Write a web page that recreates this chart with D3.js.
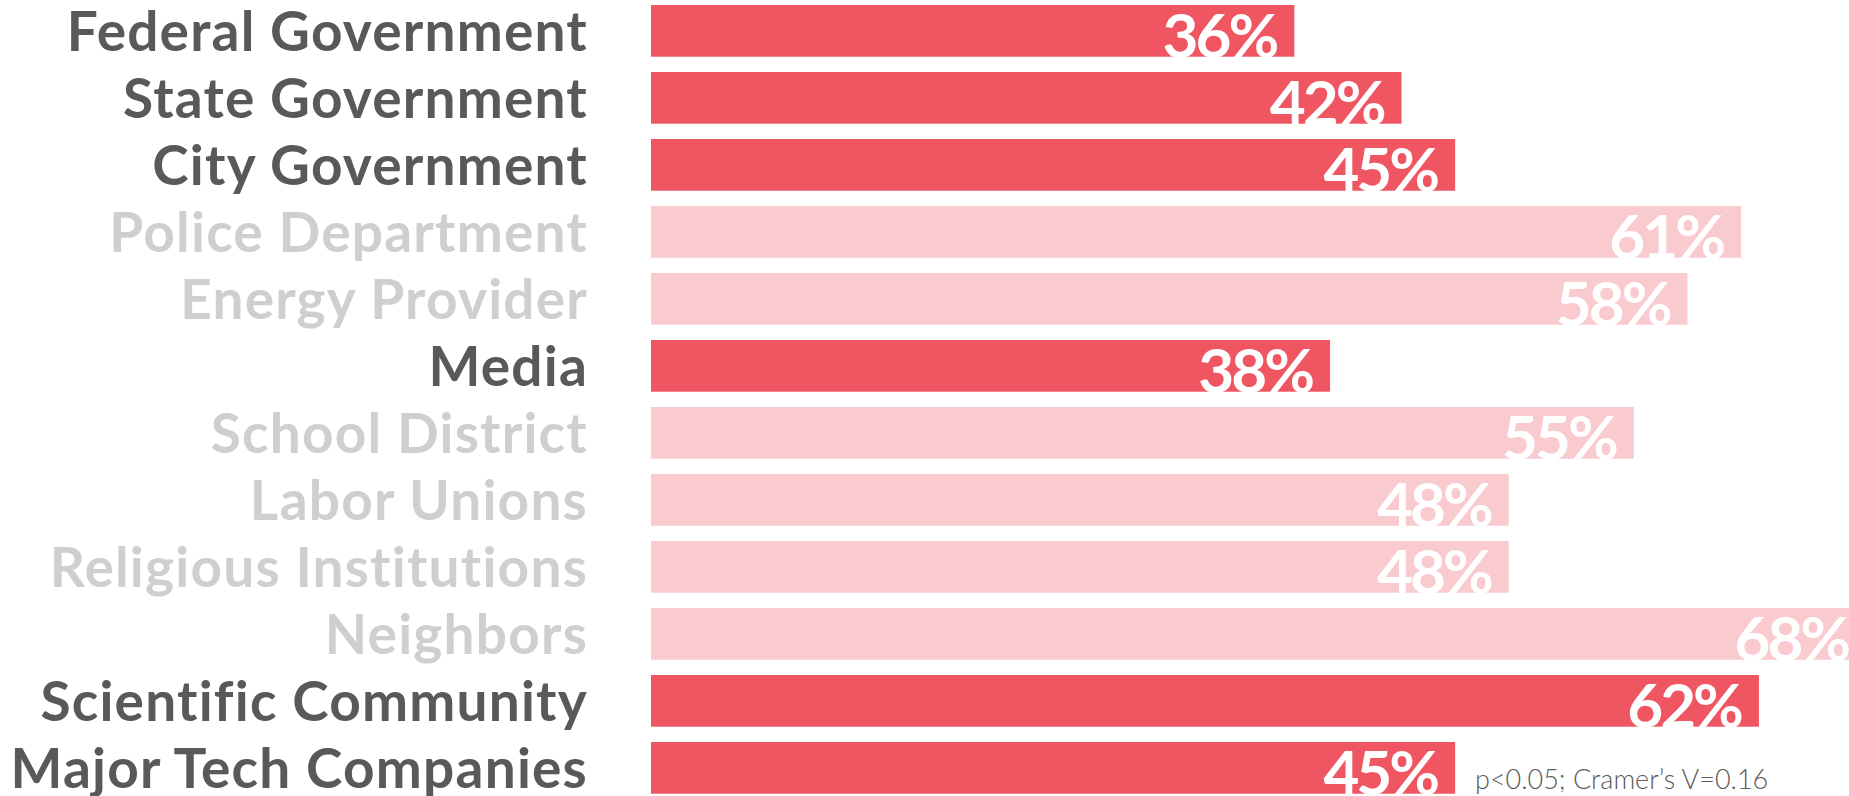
<!DOCTYPE html>
<html>
<head>
<meta charset="utf-8">
<script src="https://cdn.jsdelivr.net/npm/d3@7"></script>
<style>
  html, body { margin: 0; padding: 0; background: #ffffff; overflow: hidden; }
  svg { display: block; }
</style>
</head>
<body>
<svg id="chart" width="1849" height="796"></svg>
<script>
// Share of respondents by institution
const categories = [
  "Federal Government", "State Government", "City Government",
  "Police Department", "Energy Provider", "Media", "School District",
  "Labor Unions", "Religious Institutions", "Neighbors",
  "Scientific Community", "Major Tech Companies"
];
const values = [36, 42, 45, 61, 58, 38, 55, 48, 48, 68, 62, 45];
// whether the difference for the institution is significant (highlighted)
const highlighted = [true, true, true, false, false, true, false, false, false, false, true, true];
const note = "p<0.05; Cramer\u2019s V=0.16";

const svg = d3.select("#chart");

const barLeft = 651;
const x = d3.scaleLinear().domain([0, 100]).range([barLeft, barLeft + 1787]);

const step = 67;
const y = d3.scaleBand()
  .domain(categories)
  .range([5 - step * 0.114, 5 - step * 0.114 + step * categories.length])
  .paddingInner(0.228)
  .paddingOuter(0.114);

const strong = "#f05662", soft = "#f9cbcf";
const darkText = "#595959", lightText = "#cfcfcf";

const rows = categories.map((c, i) => ({ cat: c, val: values[i], hi: highlighted[i] }));

// bars
svg.append("g").selectAll("rect")
  .data(rows).join("rect")
  .attr("x", x(0))
  .attr("y", d => y(d.cat))
  .attr("width", d => x(d.val) - x(0))
  .attr("height", y.bandwidth())
  .attr("fill", d => d.hi ? strong : soft);

// value labels inside bar ends
const vfs = 62;
svg.append("g").selectAll("text")
  .data(rows).join("text")
  .attr("x", d => x(d.val) - 18)
  .attr("y", d => y(d.cat) + 8 + 0.72 * vfs)
  .attr("text-anchor", "end")
  .attr("font-family", "Lato, sans-serif")
  .attr("font-weight", 700)
  .attr("font-size", vfs)
  .attr("letter-spacing", -3)
  .attr("fill", "#ffffff")
  .text(d => d.val + "%");

// category labels
const lfs = 55;
svg.append("g").selectAll("text")
  .data(rows).join("text")
  .attr("x", 588)
  .attr("y", d => y(d.cat) + y.bandwidth() / 2 + 0.36 * lfs)
  .attr("text-anchor", "end")
  .attr("font-family", "Lato, sans-serif")
  .attr("font-weight", 700)
  .attr("font-size", lfs)
  .attr("letter-spacing", 1.2)
  .attr("fill", d => d.hi ? darkText : lightText)
  .text(d => d.cat);

// statistics note
svg.append("text")
  .attr("x", 1475)
  .attr("y", 789)
  .attr("font-family", "Lato, sans-serif")
  .attr("font-weight", 300)
  .attr("font-size", 27)
  .attr("fill", "#5a5a5a")
  .text(note);
</script>
</body>
</html>
